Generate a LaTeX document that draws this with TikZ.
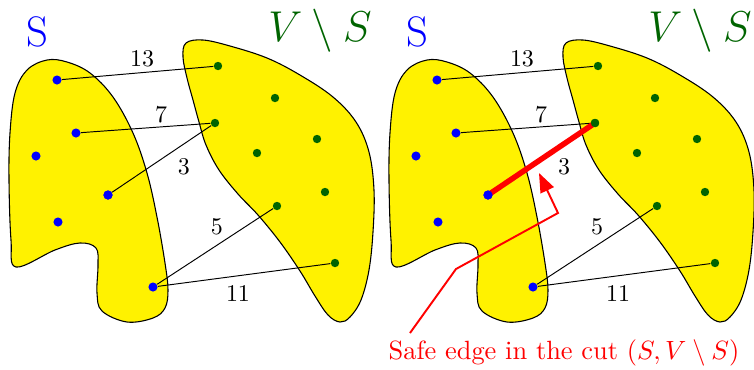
\documentclass[tikz,border=0pt]{standalone}
\usetikzlibrary{arrows.meta}
\definecolor{sgreen}{RGB}{0,100,0}
\tikzset{
  blob/.style={draw=black, fill=yellow, line width=0.45pt},
  sdot/.style={circle, fill=blue, inner sep=0pt, minimum size=3.8pt},
  vdot/.style={circle, fill=sgreen, inner sep=0pt, minimum size=3.5pt},
  cutedge/.style={line width=0.4pt, black},
  safeedge/.style={line width=2.3pt, red},
  wlabel/.style={inner sep=0pt, font=\normalsize},
  bigS/.style={text=blue, inner sep=0pt, font=\LARGE},
  bigV/.style={text=sgreen, inner sep=0pt, font=\LARGE},
  pointer/.style={red, line width=0.8pt, -{Triangle[length=8pt,width=6pt]}},
}
\newcommand\drawpanel[2]{%
  \begin{scope}[shift={(#2,0)}]
    % S blob
    \draw[blob] plot[smooth cycle, tension=0.6] coordinates {
      (47,60) (67,62) (90,73) (113,97) (133,133) (147,173) (157,217) (165,263)
      (168,290) (165,308) (153,318) (127,322) (102,311) (97,293) (98,265) (96,248)
      (80,243) (55,250) (16,267) (11,240) (9,180) (10,133) (15,93) (27,70)};
    % V\S blob
    \draw[blob] plot[smooth cycle, tension=0.6] coordinates {
      (186,43) (203,40) (230,46) (267,58) (300,75) (333,97) (356,122) (369,152)
      (374,190) (373,232) (369,270) (361,300) (350,317) (340,322) (328,315)
      (315,296) (300,271) (280,242) (258,215) (238,194) (219,170) (206,145)
      (199,122) (193,100) (187,78) (183,57)};
    % nodes
    \node[sdot] (#1a1) at (57,80) {};
    \node[sdot] (#1a2) at (76,133) {};
    \node[sdot] (#1a3) at (36,156) {};
    \node[sdot] (#1a4) at (108,195) {};
    \node[sdot] (#1a5) at (58,222) {};
    \node[sdot] (#1a6) at (153,287) {};
    \node[vdot] (#1b1) at (218,66) {};
    \node[vdot] (#1b2) at (275,98) {};
    \node[vdot] (#1b3) at (215,123) {};
    \node[vdot] (#1b4) at (317,139) {};
    \node[vdot] (#1b5) at (257,153) {};
    \node[vdot] (#1b6) at (325,192) {};
    \node[vdot] (#1b7) at (277,206) {};
    \node[vdot] (#1b8) at (335,263) {};
    % edges
    \draw[cutedge] (#1a1) -- (#1b1);
    \draw[cutedge] (#1a2) -- (#1b3);
    \draw[cutedge] (#1a6) -- (#1b7);
    \draw[cutedge] (#1a6) -- (#1b8);
    % weights
    \node[wlabel] (#1w13) at (142,59) {13};
    \node[wlabel] (#1w7) at (161,115) {7};
    \node[wlabel] (#1w3) at (184,167) {3};
    \node[wlabel] (#1w5) at (217,227) {5};
    \node[wlabel] (#1w11) at (238,293) {11};
    % set labels
    \node[bigS] (#1S) at (37,32) {\scalebox{1.03}{S}};
    \node[bigV] (#1V) at (320,31) {\scalebox{1.04}{$V\setminus S$}};
  \end{scope}}
\begin{document}
\begin{tikzpicture}[x=0.41667pt,y=-0.41667pt]
  \useasboundingbox (0,0) rectangle (754,369);
  \drawpanel{L}{0}
  \draw[cutedge] (La4) -- (Lb3);
  \node[sdot] at (La4) {};
  \drawpanel{R}{380}
  \draw[safeedge] (Ra4.center) -- (Rb3.center);
  \node[sdot] (Ra4b) at (Ra4) {};
  \node[vdot] (Rb3b) at (Rb3) {};
  % annotation
  \node[text=red, inner sep=0pt, font=\normalsize] (safe) at (564,353)
    {\scalebox{1.1}{Safe edge in the cut $(S,V\setminus S)$}};
  \coordinate (p0) at (410,333);
  \coordinate (p1) at (456,269);
  \coordinate (p2) at (558,213);
  \coordinate (p3) at (539,173);
  \draw[pointer] (p0) -- (p1) -- (p2) -- (p3);
\end{tikzpicture}
\end{document}
